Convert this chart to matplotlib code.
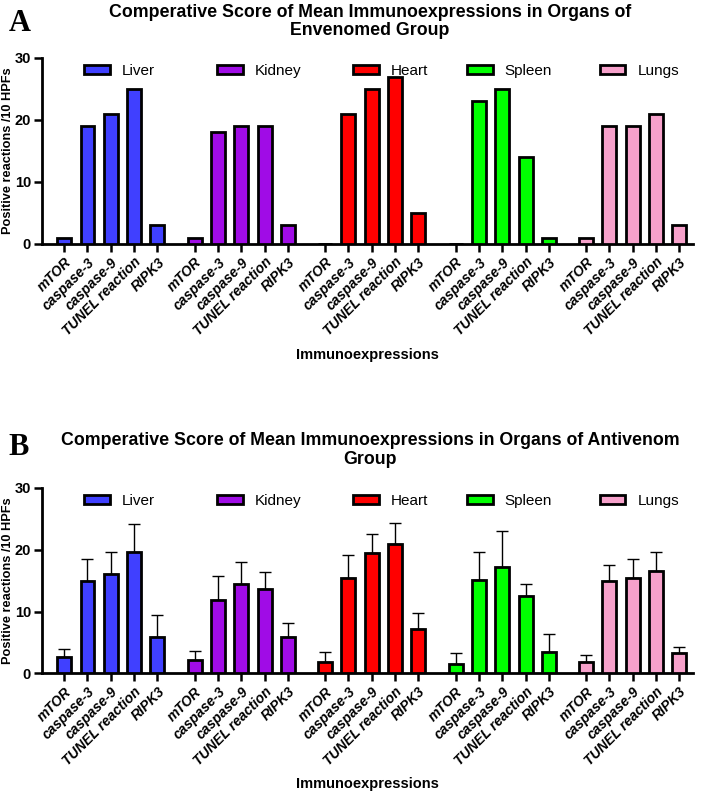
import numpy as np
import matplotlib.pyplot as plt
from matplotlib.patches import Patch

plt.rcParams['font.family'] = ['Liberation Sans', 'DejaVu Sans']

organs = ['Liver', 'Kidney', 'Heart', 'Spleen', 'Lungs']
markers = ['mTOR', 'caspase-3', 'caspase-9', 'TUNEL reaction', 'RIPK3']
colors = ['#4040ff', '#a00ce6', '#ff0000', '#00ff00', '#f7a1cb']

# panel A: envenomed group (no error bars)
env_liver = [1, 19, 21, 25, 3]
env_kidney = [1, 18, 19, 19, 3]
env_heart = [0, 21, 25, 27, 5]
env_spleen = [0, 23, 25, 14, 1]
env_lungs = [1, 19, 19, 21, 3]

# panel B: antivenom group, means and upper error
av_liver = [2.6, 15.0, 16.0, 19.6, 5.9]
av_liver_err = [1.3, 3.5, 3.6, 4.5, 3.6]
av_kidney = [2.2, 11.9, 14.5, 13.6, 5.9]
av_kidney_err = [1.4, 3.9, 3.5, 2.8, 2.2]
av_heart = [1.9, 15.5, 19.5, 20.9, 7.2]
av_heart_err = [1.5, 3.7, 3.0, 3.5, 2.5]
av_spleen = [1.6, 15.1, 17.2, 12.5, 3.5]
av_spleen_err = [1.7, 4.6, 5.9, 2.0, 2.8]
av_lungs = [1.9, 14.9, 15.5, 16.5, 3.3]
av_lungs_err = [1.1, 2.7, 3.0, 3.1, 0.9]

title_a = 'Comperative Score of Mean Immunoexpressions in Organs of\nEnvenomed Group'
title_b = 'Comperative Score of Mean Immunoexpressions in Organs of Antivenom\nGroup'

fig = plt.figure(figsize=(7.01, 7.96), dpi=100)
ax_a = fig.add_axes([0.060, 0.6935, 0.929, 0.2337])
ax_b = fig.add_axes([0.060, 0.154, 0.929, 0.233])

stride = 5.6
idx = np.arange(len(markers))
legend_x = [0.064, 0.268, 0.477, 0.652, 0.856]


def draw(ax, series, errs, title, letter, letter_y, title_y):
    ticks, labels = [], []
    for g, (name, vals, col) in enumerate(zip(organs, series, colors)):
        x = g * stride + idx
        ax.bar(x, vals, width=0.6, color=col, edgecolor='black', linewidth=2,
               zorder=3)
        if errs is not None:
            ax.errorbar(x, vals, yerr=[np.zeros(len(vals)), errs[g]], fmt='none',
                        ecolor='black', elinewidth=1, capsize=4, capthick=1, zorder=2)
        ticks.extend(x)
        labels.extend(markers)
        # one small legend per organ, placed like the original
        leg = ax.legend(handles=[Patch(facecolor=col, edgecolor='black', linewidth=2, label=name)],
                        loc='center left', bbox_to_anchor=(legend_x[g], 0.93),
                        frameon=False, fontsize=11, handlelength=1.7, handleheight=0.55,
                        handletextpad=0.8, borderpad=0, borderaxespad=0)
        ax.add_artist(leg)
    ax.legend_ = None
    ax.set_xticks(ticks)
    ax.set_xticklabels(labels, rotation=45, ha='right', rotation_mode='anchor',
                       fontsize=10, fontweight='bold', style='italic')
    ax.set_xlim(-0.95, 4 * stride + 4 + 0.6)
    ax.set_ylim(0, 30)
    ax.set_yticks([0, 10, 20, 30])
    for t in ax.get_yticklabels():
        t.set_fontweight('bold')
        t.set_fontsize(10.5)
    ax.spines['top'].set_visible(False)
    ax.spines['right'].set_visible(False)
    ax.spines['left'].set_linewidth(2)
    ax.spines['bottom'].set_linewidth(2)
    ax.tick_params(axis='both', width=1.8, length=6, pad=2)
    ax.set_ylabel('Positive reactions /10 HPFs', fontsize=9.2, fontweight='bold')
    ax.yaxis.set_label_coords(-0.043, 0.5)
    ax.set_xlabel('Immunoexpressions', fontsize=10.5, fontweight='bold')
    ax.xaxis.set_label_coords(0.5, -0.595)
    ax.xaxis.label.set_va('center')
    fig.text(0.528, title_y, title, ha='center', va='top', fontsize=12.8,
             fontweight='bold', linespacing=1.1)
    fig.text(0.012, letter_y, letter, ha='left', va='top', fontsize=22,
             fontweight='bold', family='Liberation Serif')


draw(ax_a, [env_liver, env_kidney, env_heart, env_spleen, env_lungs], None,
     title_a, 'A', 0.989, 0.995)
draw(ax_b, [av_liver, av_kidney, av_heart, av_spleen, av_lungs],
     [av_liver_err, av_kidney_err, av_heart_err, av_spleen_err, av_lungs_err],
     title_b, 'B', 0.456, 0.457)

fig.savefig('out.png', dpi=100)
